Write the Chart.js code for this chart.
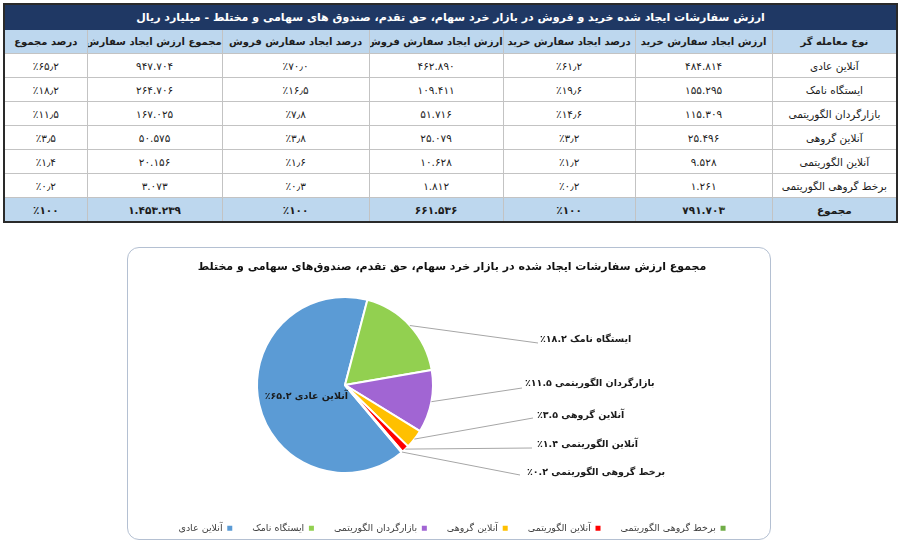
<!DOCTYPE html>
<html lang="fa">
<head>
<meta charset="UTF-8">
<title>ارزش سفارشات ایجاد شده خرید و فروش</title>
<script src="https://cdn.jsdelivr.net/npm/chart.js"></script>
<style>
  body { margin: 0; background: #fff; font-family: "DejaVu Sans", sans-serif; width: 900px; height: 543px; overflow: hidden; position: relative; }
  #jadval { position: absolute; left: 3px; top: 3px; width: 893px; border-collapse: collapse; table-layout: fixed; border: 2px solid #2a2a2a; direction: rtl; }
  #jadval td { border: 1px solid #c3c3c3; text-align: center; height: 23px; padding: 0; font-size: 10.5px; color: #1c1c1c; white-space: nowrap; overflow: hidden; }
  #jadval tr.sar td { background: #1f3864; color: #fff; font-weight: bold; font-size: 11px; height: 24px; border-color: #1f3864; }
  #jadval tr.sarsotun td { background: #bdd7ee; font-weight: bold; font-size: 10px; }
  #jadval tr.jam td { background: #bdd7ee; font-weight: bold; }
  #ghab { position: absolute; left: 127px; top: 247px; width: 644px; height: 293px; box-sizing: border-box; border: 1.5px solid #b4c0d2; border-radius: 12px; }
  #nemudar { position: absolute; left: 127px; top: 247px; direction: rtl; }
</style>
</head>
<body>
  <table id="jadval">
    <colgroup>
      <col style="width:125px"><col style="width:137px"><col style="width:132px"><col style="width:134px">
      <col style="width:147px"><col style="width:135px"><col style="width:83px">
    </colgroup>
    <tbody id="badane"></tbody>
  </table>

  <div id="ghab"></div>
  <canvas id="nemudar" width="644" height="296"></canvas>

<script>
  // داده‌ها (میلیارد ریال)
  const traders = ['آنلاین عادی', 'ایستگاه نامک', 'بازارگردان الگوریتمی', 'آنلاین گروهی', 'آنلاین الگوریتمی', 'برخط گروهی الگوریتمی'];
  const buyValue = [484814, 155295, 115309, 25496, 9528, 1261];
  const buyPct = [61.2, 19.6, 14.6, 3.2, 1.2, 0.2];
  const sellValue = [462890, 109411, 51716, 25079, 10628, 1812];
  const sellPct = [70.0, 16.5, 7.8, 3.8, 1.6, 0.3];
  const totalValue = [947704, 264706, 167025, 50575, 20156, 3073];
  const totalPct = [65.2, 18.2, 11.5, 3.5, 1.4, 0.2];
  const totalsRow = [791703, 100, 661536, 100, 1453239, 100];
  const headers = ['نوع معامله گر', 'ارزش ایجاد سفارش خرید', 'درصد ایجاد سفارش خرید', 'ارزش ایجاد سفارش فروش', 'درصد ایجاد سفارش فروش', 'مجموع ارزش ایجاد سفارش', 'درصد مجموع'];
  const tableTitle = 'ارزش سفارشات ایجاد شده خرید و فروش در بازار خرد سهام، حق تقدم، صندوق های سهامی و مختلط - میلیارد ریال';
  const chartTitle = 'مجموع ارزش سفارشات ایجاد شده در بازار خرد سهام، حق تقدم، صندوق‌های سهامی و مختلط';

  const rangha = ['#5b9bd5', '#92d050', '#a165d3', '#ffc000', '#ff0000', '#70ad47'];

  const faDigits = '۰۱۲۳۴۵۶۷۸۹';
  const fa = s => String(s).replace(/\d/g, d => faDigits[d]);
  const faNum = n => fa(String(n).replace(/\B(?=(\d{3})+(?!\d))/g, '.'));
  const faPct = p => '٪' + (p === 100 ? fa(100) : fa(p.toFixed(1)).replace('.', '٫'));

  // جدول
  const badane = document.getElementById('badane');
  let html = `<tr class="sar"><td colspan="7">${tableTitle}</td></tr>`;
  html += '<tr class="sarsotun">' + headers.map(h => `<td>${h}</td>`).join('') + '</tr>';
  traders.forEach((t, i) => {
    html += '<tr><td>' + t + '</td>' +
      `<td dir="ltr">${faNum(buyValue[i])}</td>` +
      `<td dir="ltr">${faPct(buyPct[i])}</td>` +
      `<td dir="ltr">${faNum(sellValue[i])}</td>` +
      `<td dir="ltr">${faPct(sellPct[i])}</td>` +
      `<td dir="ltr">${faNum(totalValue[i])}</td>` +
      `<td dir="ltr">${faPct(totalPct[i])}</td></tr>`;
  });
  html += '<tr class="jam"><td>مجموع</td>' + totalsRow.map((v, k) => `<td dir="ltr">${k % 2 ? faPct(v) : faNum(v)}</td>`).join('') + '</tr>';
  badane.innerHTML = html;

  // جای برچسب‌های بیرونی (خط راهنما و متن)
  const labelSpots = [
    { ex: 411, ey: 96, tx: 413, ty: 93 },
    { ex: 395, ey: 141, tx: 398, ty: 137 },
    { ex: 406, ey: 171, tx: 410, ty: 169 },
    { ex: 405, ey: 201, tx: 410, ty: 198 },
    { ex: 393, ey: 228, tx: 400, ty: 226 }
  ];

  const barchasbPlugin = {
    id: 'barchasb',
    afterLayout(chart) {
      // دایره در سمت چپ کادر
      const a = chart.chartArea;
      const cx = 218, cy = 138, r = 89;
      a.left = cx - r; a.right = cx + r; a.top = cy - r; a.bottom = cy + r;
      a.width = 2 * r; a.height = 2 * r;
    },
    afterDatasetsDraw(chart) {
      const ctx = chart.ctx;
      const arcs = chart.getDatasetMeta(0).data;
      ctx.save();
      ctx.direction = 'rtl';
      ctx.font = 'bold 9.5px "DejaVu Sans"';
      ctx.fillStyle = '#1a1a1a';
      ctx.textBaseline = 'middle';
      arcs.forEach((arc, i) => {
        const { x, y, startAngle, endAngle, outerRadius } = arc.getProps(['x', 'y', 'startAngle', 'endAngle', 'outerRadius'], true);
        const mid = (startAngle + endAngle) / 2;
        const matn = traders[i] + ' ' + fa(totalPct[i].toFixed(1)) + '٪';
        if (i === 0) {
          ctx.textAlign = 'center';
          ctx.fillText(matn, x + Math.cos(mid) * outerRadius * 0.45, y + Math.sin(mid) * outerRadius * 0.45 + 3);
          return;
        }
        const p = labelSpots[i - 1];
        ctx.strokeStyle = '#a6a6a6';
        ctx.lineWidth = 1;
        ctx.beginPath();
        ctx.moveTo(x + Math.cos(mid) * outerRadius, y + Math.sin(mid) * outerRadius);
        ctx.lineTo(p.ex, p.ey);
        ctx.stroke();
        ctx.textAlign = 'left';
        ctx.fillText(matn, p.tx, p.ty);
      });
      ctx.restore();
    }
  };

  const defaultLabels = Chart.overrides.pie.plugins.legend.labels.generateLabels;

  new Chart(document.getElementById('nemudar'), {
    type: 'pie',
    data: {
      labels: traders,
      datasets: [{
        data: totalPct,
        backgroundColor: rangha,
        borderColor: '#ffffff',
        borderWidth: 2
      }]
    },
    options: {
      responsive: false,
      animation: false,
      rotation: 140,
      layout: { padding: { left: 6, right: 0, top: 0, bottom: 0 } },
      plugins: {
        title: {
          display: true,
          text: chartTitle,
          color: '#111',
          font: { family: 'DejaVu Sans', size: 11, weight: 'bold' },
          padding: { top: 14, bottom: 10 }
        },
        legend: {
          position: 'bottom',
          rtl: true,
          reverse: true,
          textDirection: 'rtl',
          labels: {
            boxWidth: 5,
            boxHeight: 5,
            padding: 20,
            color: '#404040',
            font: { family: 'DejaVu Sans', size: 9.5 },
            generateLabels: chart => defaultLabels(chart).map(l => ({ ...l, lineWidth: 0 }))
          }
        },
        tooltip: { enabled: false }
      }
    },
    plugins: [barchasbPlugin]
  });
</script>
</body>
</html>
